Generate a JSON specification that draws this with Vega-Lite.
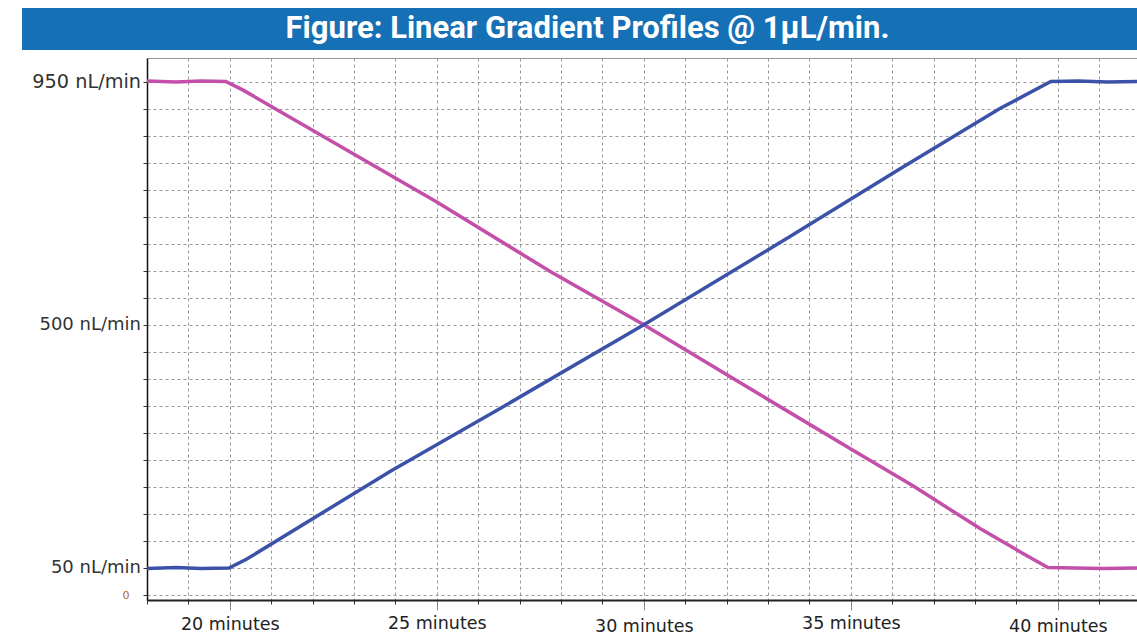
{
  "$schema": "https://vega.github.io/schema/vega-lite/v6.json",
  "background": "white",
  "padding": {"left": 22, "top": 8, "right": 0, "bottom": 0},
  "autosize": {"type": "pad"},
  "config": {"font": "DejaVu Sans"},
  "spacing": 7,
  "vconcat": [
    {
      "width": 1115,
      "height": 42,
      "view": {"fill": "#1570b6", "stroke": null},
      "data": {"values": [{"title": "Figure: Linear Gradient Profiles @ 1µL/min."}]},
      "mark": {"type": "text", "font": "Roboto", "fontWeight": "bold", "fontSize": 31, "color": "white", "dx": 8, "baseline": "middle"},
      "encoding": {"text": {"field": "title"}}
    },
    {
      "spacing": 8,
      "hconcat": [
        {
          "width": 1,
          "height": 1,
          "view": {"stroke": null},
          "data": {"values": []},
          "mark": "point"
        },
        {
          "width": 992,
          "height": 542,
          "view": {"stroke": "#999999", "strokeWidth": 1},
          "data": {"values": [
            {"t": 18, "v": 951, "s": "A"}, {"t": 18.7, "v": 949, "s": "A"}, {"t": 19.3, "v": 951, "s": "A"}, {"t": 19.9, "v": 950, "s": "A"},
            {"t": 20.3, "v": 935, "s": "A"}, {"t": 25, "v": 727, "s": "A"}, {"t": 27.75, "v": 598, "s": "A"}, {"t": 30, "v": 500, "s": "A"},
            {"t": 32.58, "v": 381, "s": "A"}, {"t": 35, "v": 270, "s": "A"}, {"t": 36.5, "v": 202, "s": "A"}, {"t": 38.14, "v": 122, "s": "A"},
            {"t": 39.2, "v": 75, "s": "A"}, {"t": 39.76, "v": 51, "s": "A"}, {"t": 40.4, "v": 50, "s": "A"}, {"t": 41.1, "v": 49, "s": "A"}, {"t": 41.96, "v": 50, "s": "A"},
            {"t": 18, "v": 49, "s": "B"}, {"t": 18.7, "v": 51, "s": "B"}, {"t": 19.3, "v": 49, "s": "B"}, {"t": 19.98, "v": 50, "s": "B"},
            {"t": 20.4, "v": 66, "s": "B"}, {"t": 23.9, "v": 230, "s": "B"}, {"t": 26.55, "v": 346, "s": "B"}, {"t": 30, "v": 500, "s": "B"},
            {"t": 33.55, "v": 664, "s": "B"}, {"t": 36.2, "v": 789, "s": "B"}, {"t": 38.6, "v": 900, "s": "B"}, {"t": 39.83, "v": 950, "s": "B"},
            {"t": 40.5, "v": 951, "s": "B"}, {"t": 41.2, "v": 949, "s": "B"}, {"t": 41.96, "v": 950, "s": "B"}
          ]},
          "mark": {"type": "line", "strokeWidth": 3.5, "clip": true},
          "encoding": {
            "x": {
              "field": "t", "type": "quantitative",
              "scale": {"domain": [18, 41.96], "nice": false, "zero": false},
              "axis": {
                "title": null,
                "values": [18, 19, 20, 21, 22, 23, 24, 25, 26, 27, 28, 29, 30, 31, 32, 33, 34, 35, 36, 37, 38, 39, 40, 41],
                "labelExpr": "datum.value % 5 == 0 ? datum.value + ' minutes' : ''",
                "labelFont": "DejaVu Sans",
                "labelFontSize": 17.5,
                "labelColor": "#222222",
                "labelFlush": false,
                "labelOverlap": false,
                "domainColor": "#222222",
                "domainWidth": 2,
                "tickSize": {"condition": {"test": "datum.value % 5 == 0", "value": 10}, "value": 4},
                "tickColor": {"condition": {"test": "datum.value % 5 == 0", "value": "#888888"}, "value": "#333333"},
                "labelPadding": {"condition": [{"test": "datum.value == 25 || datum.value == 35", "value": 4}, {"test": "datum.value == 30 || datum.value == 40", "value": 7}], "value": 5.3},
                "grid": true,
                "gridDash": [3, 3],
                "gridColor": "#999999",
                "gridWidth": 1
              }
            },
            "y": {
              "field": "v", "type": "quantitative",
              "scale": {"domain": [-9.25, 993.5], "nice": false, "zero": false},
              "axis": {
                "title": null,
                "values": [0, 50, 100, 150, 200, 250, 300, 350, 400, 450, 500, 550, 600, 650, 700, 750, 800, 850, 900, 950],
                "labelExpr": "datum.value == 950 ? '950 nL/min' : datum.value == 500 ? '500 nL/min' : datum.value == 50 ? '50 nL/min' : datum.value == 0 ? '0' : ''",
                "labelFont": "DejaVu Sans",
                "labelFontSize": {"condition": [{"test": "datum.value == 950", "value": 19.3}, {"test": "datum.value == 0", "value": 11}], "value": 18},
                "labelColor": {"condition": {"test": "datum.value == 0", "value": "#b0662a"}, "value": "#333333"},
                "labelFlush": false,
                "labelOverlap": false,
                "labelPadding": {"condition": {"test": "datum.value == 0", "value": 14}, "value": 2.5},
                "tickSize": 4,
                "tickColor": "#333333",
                "domainColor": "#111111",
                "domainWidth": 1.5,
                "grid": true,
                "gridDash": [3, 3],
                "gridColor": "#999999",
                "gridWidth": 1
              }
            },
            "color": {"field": "s", "type": "nominal", "scale": {"domain": ["A", "B"], "range": ["#c34fa9", "#3c52a8"]}, "legend": null}
          }
        }
      ]
    }
  ]
}
